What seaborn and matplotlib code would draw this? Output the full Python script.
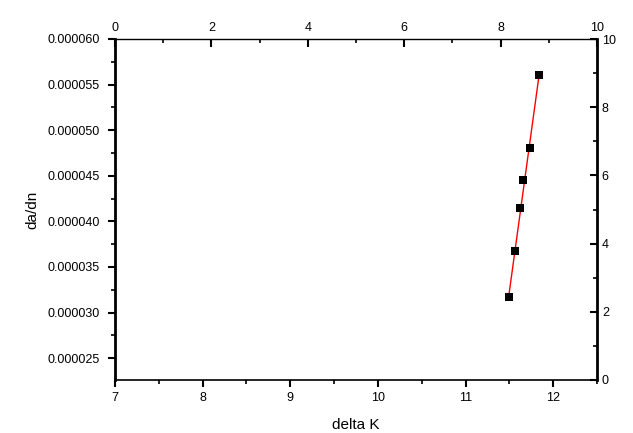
import numpy as np
import pandas as pd
import seaborn as sns
import matplotlib
matplotlib.use('Agg')
import matplotlib.pyplot as plt
from matplotlib.ticker import MultipleLocator, FormatStrFormatter

# values
delta_k = [11.496, 11.568, 11.625, 11.66, 11.735, 11.84]
da_dn = [3.171e-5, 3.673e-5, 4.145e-5, 4.452e-5, 4.80e-5, 5.605e-5]

df = pd.DataFrame({'delta K': delta_k, 'da/dn': da_dn})

sns.set_style('white')
plt.rcParams['font.family'] = ['Liberation Sans', 'DejaVu Sans']
plt.rcParams['text.color'] = 'black'
plt.rcParams['axes.labelcolor'] = 'black'
plt.rcParams['xtick.color'] = 'black'
plt.rcParams['ytick.color'] = 'black'

fig = plt.figure(figsize=(6.33, 4.33), dpi=100)
ax = fig.add_axes([115 / 633, 53 / 433, 482 / 633, 341 / 433])

# linear fit through the points, then the points on top
sns.regplot(x='delta K', y='da/dn', data=df, ax=ax, scatter=False, ci=None,
            truncate=True, color='red', line_kws={'linewidth': 1})
sns.scatterplot(x='delta K', y='da/dn', data=df, ax=ax, marker='s', s=36,
                color='black', edgecolor='black', linewidth=0, zorder=5)

ax.set_xlim(7, 12.5)
ax.set_ylim(2.26e-5, 6.0e-5)
ax.xaxis.set_major_locator(MultipleLocator(1))
ax.xaxis.set_minor_locator(MultipleLocator(0.5))
ax.yaxis.set_major_locator(MultipleLocator(5e-6))
ax.yaxis.set_minor_locator(MultipleLocator(2.5e-6))
ax.yaxis.set_major_formatter(FormatStrFormatter('%.6f'))
ax.tick_params(which='major', direction='out', length=5, width=1.5,
               labelsize=9, color='black', bottom=True, left=True)
ax.tick_params(axis='y', which='major', pad=6)
ax.tick_params(which='minor', direction='out', length=3, width=1.2,
               color='black', bottom=True, left=True)
ax.set_xlabel('delta K', fontsize=11, labelpad=10)
ax.set_ylabel('da/dn', fontsize=11, labelpad=6)

for side, lw in [('left', 2), ('right', 2), ('top', 1), ('bottom', 1.2)]:
    ax.spines[side].set_visible(True)
    ax.spines[side].set_color('black')
    ax.spines[side].set_linewidth(lw)

# top axis 0-10
top = ax.twiny()
top.set_xlim(0, 10)
top.xaxis.set_major_locator(MultipleLocator(2))
top.xaxis.set_minor_locator(MultipleLocator(1))
top.tick_params(axis='x', which='major', direction='in', length=6, width=1.5,
                labelsize=9, top=True, color='black')
top.tick_params(axis='x', which='minor', direction='in', length=3, width=1.2,
                top=True, color='black')

# right axis 0-10
right = ax.twinx()
right.set_ylim(0, 10)
right.yaxis.set_major_locator(MultipleLocator(2))
right.yaxis.set_minor_locator(MultipleLocator(1))
right.tick_params(axis='y', which='major', direction='in', length=5, width=1.5,
                  labelsize=9, right=True, color='black')
right.tick_params(axis='y', which='minor', direction='in', length=3, width=1.2,
                  right=True, color='black')

for a in (top, right):
    for side in a.spines:
        a.spines[side].set_visible(False)

fig.savefig('out.png', dpi=100)
